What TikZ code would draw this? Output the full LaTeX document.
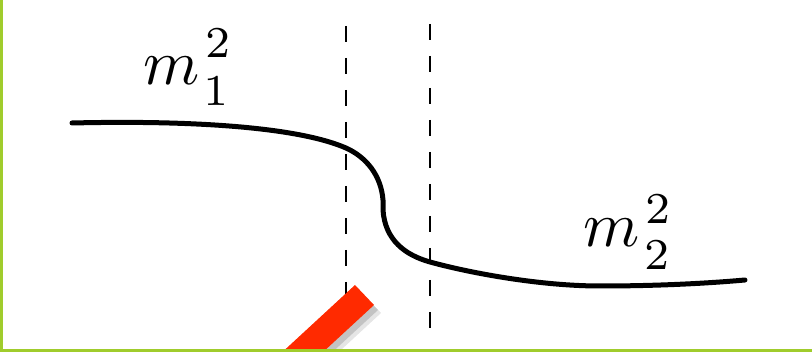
\documentclass[tikz,border=0pt]{standalone}
\definecolor{framegreen}{RGB}{160,204,44}
\definecolor{barred}{RGB}{255,42,0}
\tikzset{
  curveline/.style={line width=5pt,black,line cap=round},
  guide/.style={line width=2.2pt,black,dash pattern=on 16pt off 16pt},
  masslabel/.style={inner sep=0pt,anchor=base west},
}
\newcommand{\bigsym}[1]{\scalebox{6.4}{$#1$}}
\newcommand{\bigidx}[1]{\scalebox{6.3}{$\scriptstyle #1$}}
\begin{document}
\begin{tikzpicture}[x=1pt,y=-1pt]
\useasboundingbox (0,0) rectangle (812,352);
\begin{scope}
\clip (0,0) rectangle (812,352);
% dashed guides
\coordinate (g1t) at (346,26);
\coordinate (g1b) at (346,334);
\coordinate (g2t) at (430,24);
\coordinate (g2b) at (430,332);
\draw[guide] (g1t) -- (g1b);
\draw[guide] (g2t) -- (g2b);
% curve
\coordinate (c0) at (72,123);
\coordinate (c1) at (346,148);
\coordinate (c2) at (383,200);
\coordinate (c3) at (383,210);
\coordinate (c4) at (430,262);
\coordinate (c5) at (600,286);
\coordinate (c6) at (745,280);
\draw[curveline] (c0) .. controls (200,120) and (300,128) .. (c1)
  .. controls (366,157) and (381,175) .. (c2) -- (c3)
  .. controls (385,240) and (405,255) .. (c4)
  .. controls (470,273) and (540,286) .. (c5)
  .. controls (650,286) and (700,284) .. (c6);
% labels m_1^2
\node[masslabel] (l1m) at (143,85) {\bigsym{m}};
\node[masslabel] (l1sup) at (205,58) {\bigidx{2}};
\node[masslabel] (l1sub) at (203,106) {\bigidx{1}};
% labels m_2^2
\node[masslabel] (l2m) at (583,247) {\bigsym{m}};
\node[masslabel] (l2sup) at (645,224) {\bigidx{2}};
\node[masslabel] (l2sub) at (644,270) {\bigidx{2}};
% red bar with shadow
\fill[black,opacity=0.15] (358,289) -- (378,310) -- (300,382) -- (280,361) -- cycle;
\fill[black,opacity=0.10] (360,292) -- (381,313) -- (303,385) -- (282,364) -- cycle;
\fill[barred] (355,285) -- (374,305) -- (296,377) -- (277,357) -- cycle;
% frame
\fill[framegreen] (0,0) rectangle (3,352);
\fill[framegreen] (0,349) rectangle (812,352);
\end{scope}
\end{tikzpicture}
\end{document}
